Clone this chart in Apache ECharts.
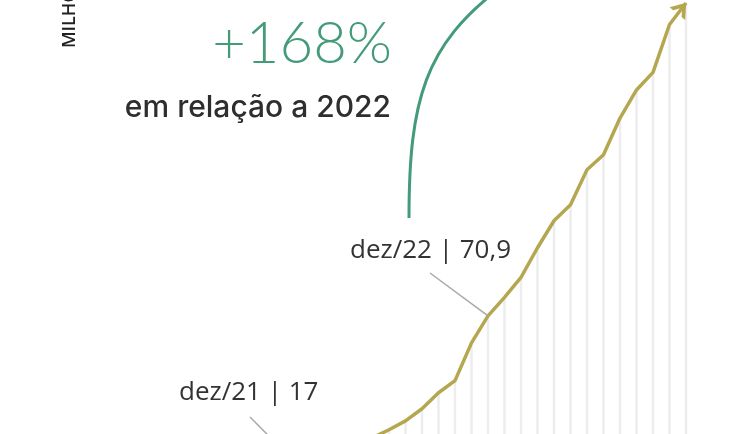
<!DOCTYPE html>
<html>
<head>
<meta charset="utf-8">
<script src="https://cdn.jsdelivr.net/npm/echarts@6/dist/echarts.min.js"></script>
<style>
  html, body { margin: 0; padding: 0; background: #fff; }
  #chart { width: 750px; height: 434px; }
</style>
</head>
<body>
<div id="chart"></div>
<script>
// meses de dez/21 a dez/23
const months = ['dez/21', 'jan/22', 'fev/22', 'mar/22', 'abr/22', 'mai/22', 'jun/22',
  'jul/22', 'ago/22', 'set/22', 'out/22', 'nov/22', 'dez/22',
  'jan/23', 'fev/23', 'mar/23', 'abr/23', 'mai/23', 'jun/23',
  'jul/23', 'ago/23', 'set/23', 'out/23', 'nov/23', 'dez/23']
// milhões
const values = [17, 18, 19.1, 20.3, 22.2, 24.5, 27.5,
  30.9, 35.5, 41.6, 46.2, 60.6, 70.9,
  77.9, 85.5, 96.8, 107.1, 113.2, 126.5,
  132.2, 146.2, 156.9, 163.6, 181.8, 190]
const callouts = [['dez/21', 17], ['dez/22', 70.9]]

const gold = '#b4a750'
const green = '#449b79'

const lineData = values.map((v, i) => {
  if (i !== values.length - 1) return v
  return {
    value: v,
    symbol: 'path://M0,10 L5,0 L10,10 L7.7,10 L5,4.6 L2.3,10 Z',
    symbolSize: [20, 14],
    symbolRotate: -39,
    symbolOffset: [-4.2, 5.2],
    itemStyle: { color: gold }
  }
})

const fmt = c => c[0] + ' | ' + String(c[1]).replace('.', ',')

const chart = echarts.init(document.getElementById('chart'))
chart.setOption({
  animation: false,
  grid: { left: 290, right: 64, top: 3, bottom: -68, outerBoundsMode: 'none', containLabel: false },
  xAxis: { type: 'category', data: months, boundaryGap: false, show: false },
  yAxis: { type: 'value', min: 0, max: 190, show: false },
  series: [
    {
      type: 'bar',
      data: values,
      barWidth: 2.5,
      itemStyle: { color: '#ededed' },
      silent: true,
      z: 1
    },
    {
      type: 'line',
      data: lineData,
      symbol: 'none',
      showAllSymbol: true,
      lineStyle: { color: gold, width: 3.5 },
      z: 3,
      markLine: {
        silent: true,
        symbol: 'none',
        label: { show: false },
        lineStyle: { color: '#a8a8a8', width: 1.5, type: 'solid' },
        data: [
          [{ coord: callouts[0] }, { x: 250, y: 417 }],
          [{ coord: callouts[1] }, { x: 430, y: 273 }]
        ]
      }
    }
  ],
  graphic: [
    {
      type: 'text', x: 70, y: 48, rotation: Math.PI / 2,
      style: { text: 'MILHÕES', font: '600 18px "Open Sans"', fill: '#222', textAlign: 'left', textVerticalAlign: 'middle' }
    },
    {
      type: 'text', x: 392, y: 44,
      style: { text: '+168%', font: '300 58px Lato', fill: green, textAlign: 'right', textVerticalAlign: 'middle' }
    },
    {
      type: 'text', x: 391, y: 108,
      style: { text: 'em relação a 2022', font: '500 30px Inter', fill: '#2e2e2e', textAlign: 'right', textVerticalAlign: 'middle' }
    },
    {
      type: 'bezierCurve',
      shape: { x1: 409, y1: 218, cpx1: 409, cpy1: 100, cpx2: 425, cpy2: 45, x2: 500, y2: -12 },
      style: { stroke: green, lineWidth: 3, fill: null }
    },
    {
      type: 'text', x: 179, y: 393,
      style: { text: fmt(callouts[0]), font: '26px "Open Sans"', fill: '#333', textAlign: 'left', textVerticalAlign: 'middle' }
    },
    {
      type: 'text', x: 350, y: 251,
      style: { text: fmt(callouts[1]), font: '26px "Open Sans"', fill: '#333', textAlign: 'left', textVerticalAlign: 'middle' }
    }
  ]
})
</script>
</body>
</html>
